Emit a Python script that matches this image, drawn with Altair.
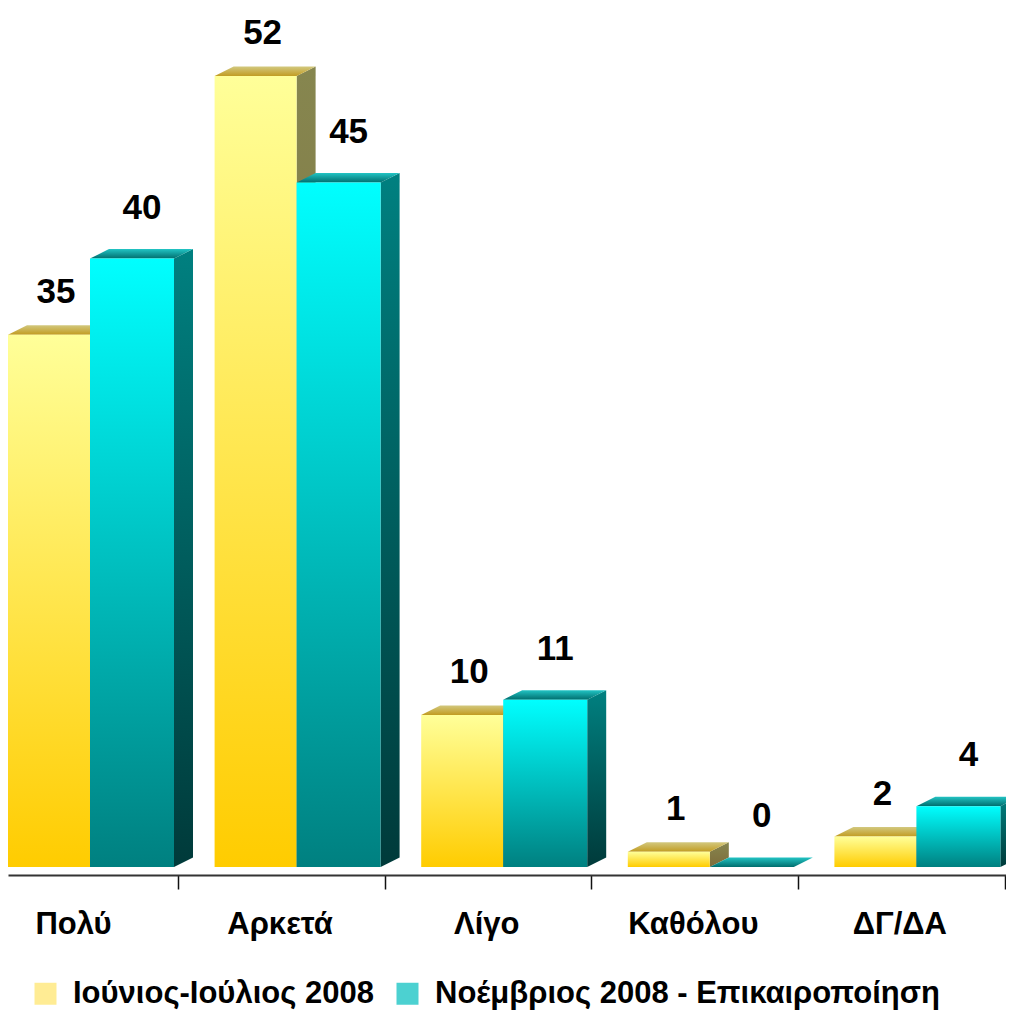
import json
import altair as alt
import pandas as pd

# ---------------- data ----------------
categories = ["Πολύ", "Αρκετά", "Λίγο", "Καθόλου", "ΔΓ/ΔΑ"]
series = ["Ιούνιος-Ιούλιος 2008", "Νοέμβριος 2008 - Επικαιροποίηση"]
june_july = [35, 52, 10, 1, 2]
november = [40, 45, 11, 0, 4]
values = {series[0]: june_july, series[1]: november}

# ---------------- layout (pixels) ----------------
FONT = "Liberation Sans, Arial, sans-serif"
PLOT_W = 998
PLOT_H = 867
BAND = 206.6          # px per category
LEFT_EDGE = -67.0     # plot's left edge, px from centre of first band
YPX = 15.21           # px per percentage point
FLOOR = 8.0           # px between bar base and axis line
DEPTH_X = 19.0
DEPTH_Y = 9.5

u_left = LEFT_EDGE / BAND
u_right = u_left + PLOT_W / BAND
y_low = -FLOOR / YPX
y_high = y_low + PLOT_H / YPX
dx = DEPTH_X / BAND
dy = DEPTH_Y / YPX

bar_px = {series[0]: (-67.0, 15.0), series[1]: (15.0, 99.0)}
label_dx = {series[0]: 7.0, series[1]: 10.0}
label_dy = {series[0]: 32, series[1]: 40}

front_rows, side_rows, top_rows, label_rows = [], [], [], []
for s in series:
    a, b = bar_px[s]
    for i, v in enumerate(values[s]):
        bid = f"{s}-{i}"
        x0 = i + a / BAND
        x1 = i + b / BAND
        front_rows.append(dict(series=s, id=bid, x0=x0, x1=x1, y0=0.0, y1=v))
        side_rows.append(dict(series=s, id=bid, sx=x1, sy=v, sy2=0.0))
        side_rows.append(dict(series=s, id=bid, sx=x1 + dx, sy=v + dy, sy2=dy))
        top_rows.append(dict(series=s, id=bid, ty=v, tx=x0, tx2=x1))
        top_rows.append(dict(series=s, id=bid, ty=v + dy, tx=x0 + dx, tx2=x1 + dx))
        label_rows.append(dict(series=s, lx=(x0 + x1) / 2 + label_dx[s] / BAND, ly=v, txt=str(v)))

front_df = pd.DataFrame(front_rows)
side_df = pd.DataFrame(side_rows)
top_df = pd.DataFrame(top_rows)
label_df = pd.DataFrame(label_rows)


def grad(top, bottom):
    return {"gradient": "linear", "x1": 0, "y1": 0, "x2": 0, "y2": 1,
            "stops": [{"offset": 0, "color": top}, {"offset": 1, "color": bottom}]}


style = {
    series[0]: dict(front=grad("#FFFF99", "#FFCC00"),
                    side=grad("#86864F", "#7E6C3A"),
                    top=grad("#D2C87E", "#C29C22")),
    series[1]: dict(front=grad("#00FFFF", "#008080"),
                    side=grad("#008080", "#003A3A"),
                    top=grad("#22C4C4", "#006E6E")),
}

xs = alt.Scale(domain=[u_left, u_right], nice=False, zero=False)
ys = alt.Scale(domain=[y_low, y_high], nice=False, zero=False)

label_expr = json.dumps(categories, ensure_ascii=False) + "[datum.value]"
xaxis = alt.Axis(values=[0, 1, 2, 3, 4], tickOffset=BAND / 2, labelOffset=-BAND / 2 - 2,
                 labelExpr=label_expr, labelFont=FONT, labelFontSize=31,
                 labelFontWeight="bold", labelColor="#000000", labelBaseline="alphabetic",
                 labelPadding=44, labelFlush=False, labelOverlap=False, labelLimit=1000,
                 tickSize=14, tickWidth=1.5, tickColor="#111111",
                 domainColor="#333333", domainWidth=2, grid=False, title=None)


def X(field):
    return alt.X(field, type="quantitative", scale=xs, axis=xaxis)


def Y(field):
    return alt.Y(field, type="quantitative", scale=ys, axis=None, stack=False)


layers = []
for s in series:
    flt = alt.datum.series == s
    side = alt.Chart(side_df).transform_filter(flt).mark_area(
        fill=style[s]["side"], clip=True, interpolate="linear"
    ).encode(x=X("sx"), y=Y("sy"), y2="sy2", detail="id:N")
    top = alt.Chart(top_df).transform_filter(flt).mark_area(
        fill=style[s]["top"], orient="horizontal", clip=True, interpolate="linear"
    ).encode(y=Y("ty"), x=X("tx"), x2="tx2", detail="id:N")
    front = alt.Chart(front_df).transform_filter(flt).mark_rect(
        fill=style[s]["front"], clip=True
    ).encode(x=X("x0"), x2="x1", y=Y("y0"), y2="y1")
    layers += [side, top, front]

labels = []
for s in series:
    labels.append(
        alt.Chart(label_df).transform_filter(alt.datum.series == s).mark_text(
            font=FONT, fontSize=35, fontWeight="bold", color="#000000",
            baseline="alphabetic", align="center", dy=-label_dy[s]
        ).encode(x=X("lx"), y=Y("ly"), text="txt:N")
    )

legend_layer = alt.Chart(label_df).transform_filter("false").mark_square().encode(
    x=X("lx"), y=Y("ly"),
    color=alt.Color("series:N",
                    scale=alt.Scale(domain=series, range=["#FFE466", "#00BDBD"]),
                    legend=alt.Legend(orient="none", legendX=22, legendY=970,
                                      direction="horizontal", title=None,
                                      symbolType="square", symbolSize=484,
                                      symbolStrokeWidth=0, labelFont=FONT,
                                      labelFontSize=31, labelFontWeight="bold",
                                      labelColor="#000000", labelLimit=1000,
                                      labelOffset=12, columnPadding=18, padding=0))
)

chart = alt.layer(*layers, *labels, legend_layer).properties(
    width=PLOT_W, height=PLOT_H,
    padding={"left": 0, "top": 0, "right": 0, "bottom": 135},
    autosize=alt.AutoSizeParams(type="none"),
).configure_view(strokeWidth=0)

chart.save("out.html", embed_options={"renderer": "svg", "actions": False})
